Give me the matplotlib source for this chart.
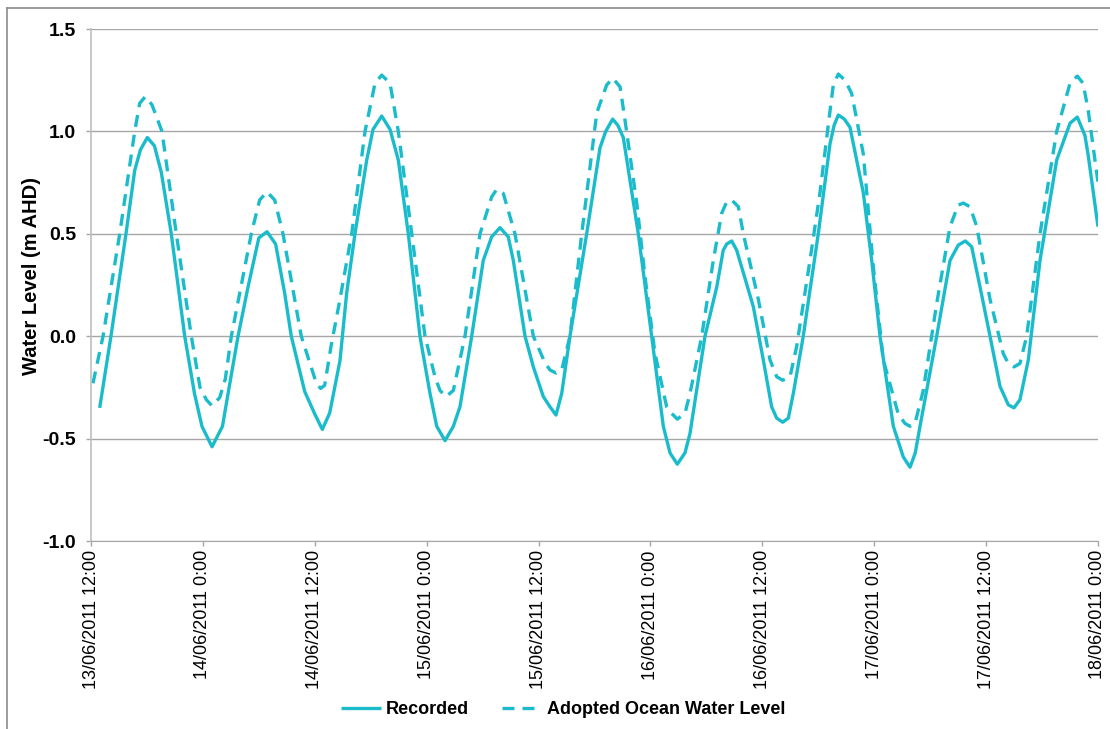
import matplotlib
matplotlib.use("Agg")
import matplotlib.pyplot as plt
import matplotlib.ticker as mticker
from matplotlib.lines import Line2D
import pandas as pd

plt.rcParams['font.family'] = ['Liberation Sans', 'DejaVu Sans']
plt.rcParams['axes.unicode_minus'] = False

start = pd.Timestamp("2011-06-13 12:00")

# hours after 13/06/2011 12:00, water level (m AHD)
rec_hours = [0.93, 2.14, 3.75, 4.69, 5.3, 6.04, 6.8, 7.54, 8.61, 10.05, 11.1, 11.9,
             12.98, 14.1, 14.7, 15.77, 16.84, 18.0, 18.88, 19.8, 20.77, 21.48, 22.92,
             24.0, 24.81, 25.6, 26.70, 27.42, 28.31, 29.57, 30.25, 31.18, 32.07, 32.96,
             34.03, 35.28, 36.36, 37.08, 37.97, 38.86, 39.57, 40.83, 42.07, 42.97, 43.86,
             44.75, 45.29, 46.55, 47.44, 48.51, 49.23, 49.87, 50.48, 51.37, 53.16, 54.59,
             55.2, 55.95, 56.5, 57.09, 58.70, 60.13, 61.38, 62.1, 62.88, 63.7, 64.24,
             65.85, 67.11, 67.81, 68.18, 68.71, 69.25, 69.96, 71.03, 72.10, 73.00, 73.54,
             74.18, 74.79, 75.32, 76.39, 77.11, 78.00, 79.26, 79.7, 80.15, 80.8, 81.40,
             82.83, 83.73, 84.62, 86.05, 87.12, 87.84, 88.4, 88.91, 90.70, 92.13, 93.02,
             93.77, 94.45, 95.35, 96.42, 97.49, 98.38, 98.99, 99.63, 100.53, 101.78,
             103.57, 105.0, 105.78, 106.6, 106.96, 108.0]
rec_level = [-0.35, 0.0, 0.50, 0.81, 0.91, 0.97, 0.93, 0.80, 0.50, 0.0, -0.28, -0.44,
             -0.54, -0.44, -0.28, 0.0, 0.24, 0.48, 0.51, 0.45, 0.21, 0.0, -0.27,
             -0.38, -0.455, -0.375, -0.12, 0.21, 0.50, 0.86, 1.01, 1.075, 1.01, 0.86,
             0.50, 0.0, -0.28, -0.44, -0.51, -0.44, -0.345, 0.0, 0.37, 0.485, 0.53,
             0.485, 0.37, 0.0, -0.15, -0.295, -0.345, -0.385, -0.28, 0.0, 0.50, 0.92,
             1.0, 1.06, 1.03, 0.97, 0.50, 0.0, -0.44, -0.57, -0.625, -0.57, -0.475,
             0.0, 0.24, 0.42, 0.45, 0.465, 0.42, 0.31, 0.145, -0.115, -0.345, -0.40,
             -0.42, -0.40, -0.28, 0.0, 0.225, 0.50, 0.94, 1.03, 1.08, 1.06, 1.02,
             0.70, 0.37, 0.0, -0.44, -0.59, -0.64, -0.57, -0.44, 0.0, 0.37, 0.445,
             0.465, 0.437, 0.24, 0.0, -0.245, -0.335, -0.35, -0.31, -0.115, 0.37,
             0.86, 1.04, 1.07, 0.98, 0.88, 0.535]

ocean_hours = [0.21, 1.29, 3.08, 4.69, 5.22, 5.82, 6.54, 7.61, 9.15, 10.76, 11.69, 12.37,
               12.98, 13.8, 14.4, 15.05, 17.19, 18.09, 18.88, 19.70, 20.59, 22.55, 24.17,
               24.63, 25.06, 25.74, 26.70, 27.96, 29.39, 30.46, 31.18, 32.07, 32.96, 34.40,
               35.82, 36.9, 37.43, 38.07, 38.86, 40.11, 41.72, 42.97, 43.51, 44.22, 45.47,
               47.44, 48.69, 49.23, 49.87, 50.48, 51.37, 52.63, 54.24, 55.3, 55.95, 56.74,
               57.27, 58.53, 59.42, 60.49, 61.74, 62.28, 62.88, 63.7, 64.24, 65.50, 66.74,
               67.64, 68.18, 68.71, 69.43, 69.96, 71.57, 72.82, 73.54, 74.18, 74.97, 75.68,
               77.11, 78.18, 79.26, 79.61, 80.15, 80.87, 81.58, 82.83, 83.90, 84.97, 86.58,
               87.3, 87.84, 88.37, 89.26, 90.70, 92.13, 93.0, 93.56, 94.27, 95.00, 96.42,
               97.84, 98.38, 98.99, 99.63, 100.35, 101.78, 103.57, 105.0, 105.78, 106.4,
               106.96, 108.0]
ocean_level = [-0.23, 0.0, 0.50, 1.0, 1.137, 1.17, 1.13, 1.0, 0.50, 0.0, -0.25, -0.31,
               -0.34, -0.30, -0.21, 0.0, 0.50, 0.665, 0.705, 0.665, 0.50, 0.0, -0.23,
               -0.255, -0.24, -0.05, 0.18, 0.50, 1.0, 1.235, 1.275, 1.235, 1.0, 0.50,
               0.0, -0.2, -0.265, -0.295, -0.265, 0.0, 0.50, 0.68, 0.717, 0.697, 0.50,
               0.0, -0.13, -0.165, -0.18, -0.165, 0.0, 0.50, 1.09, 1.226, 1.26, 1.218,
               1.055, 0.65, 0.29, -0.085, -0.345, -0.377, -0.405, -0.377, -0.28, 0.0, 0.37,
               0.60, 0.656, 0.665, 0.632, 0.50, 0.18, -0.115, -0.198, -0.215, -0.198, -0.05,
               0.37, 0.70, 1.10, 1.226, 1.28, 1.25, 1.185, 0.89, 0.34, -0.115, -0.38,
               -0.426, -0.44, -0.426, -0.265, 0.16, 0.535, 0.64, 0.65, 0.632, 0.535, 0.18,
               -0.085, -0.133, -0.15, -0.133, 0.0, 0.50, 1.0, 1.235, 1.27, 1.235,
               1.10, 0.75]

tick_labels = ["13/06/2011 12:00", "14/06/2011 0:00", "14/06/2011 12:00",
               "15/06/2011 0:00", "15/06/2011 12:00", "16/06/2011 0:00",
               "16/06/2011 12:00", "17/06/2011 0:00", "17/06/2011 12:00",
               "18/06/2011 0:00"]

rec_t = start + pd.to_timedelta(rec_hours, unit="h")
ocean_t = start + pd.to_timedelta(ocean_hours, unit="h")
ticks = [start + pd.Timedelta(hours=12 * i) for i in range(len(tick_labels))]

teal = "#1ABCCB"
grey = "#A6A6A6"

fig = plt.figure(figsize=(11.1, 7.29), dpi=100)
ax = fig.add_axes([91 / 1110, 1 - 541 / 729, (1098 - 91) / 1110, (541 - 29) / 729])

ax.plot(rec_t, rec_level, color=teal, lw=2.4, label="Recorded",
        solid_joinstyle="round", solid_capstyle="butt")
ax.plot(ocean_t, ocean_level, color=teal, lw=2.4, dashes=(3.6, 2.4),
        dash_joinstyle="round", label="Adopted Ocean Water Level")

ax.set_ylim(-1.0, 1.5)
ax.set_xlim(ticks[0], ticks[-1])
ax.yaxis.set_major_locator(mticker.MultipleLocator(0.5))
ax.yaxis.set_major_formatter(mticker.FormatStrFormatter("%.1f"))
ax.set_xticks(ticks)
ax.set_xticklabels(tick_labels, rotation=90, fontsize=13)
for lab in ax.get_yticklabels():
    lab.set_fontweight("bold")
    lab.set_fontsize(14)

ax.grid(axis="y", color=grey, lw=1)
ax.set_axisbelow(True)
for s in ["top", "right"]:
    ax.spines[s].set_visible(False)
ax.spines["left"].set_color("#BFBFBF")
ax.spines["bottom"].set_color(grey)
ax.spines["left"].set_linewidth(1.2)
ax.tick_params(axis="both", colors=grey, length=3.6, width=1, labelcolor="black")
ax.tick_params(axis="y", pad=7)
ax.tick_params(axis="x", pad=3)

ax.set_ylabel("Water Level (m AHD)", fontsize=14.5, fontweight="bold")
ax.yaxis.set_label_coords((41 - 91) / 1007, 0.517)

fig.legend(loc="center", bbox_to_anchor=(563 / 1110, 1 - 710 / 729), ncol=2, frameon=False,
           prop={"weight": "bold", "size": 13}, handlelength=2.2, columnspacing=1.8,
           handletextpad=0.3)

# outer chart border (cropped on right and bottom)
fig.add_artist(Line2D([7 / 1110, 7 / 1110], [0, 1 - 8 / 729], transform=fig.transFigure,
                      color="#8C8C8C", lw=1.2))
fig.add_artist(Line2D([7 / 1110, 1], [1 - 8 / 729, 1 - 8 / 729], transform=fig.transFigure,
                      color="#8C8C8C", lw=1.2))

fig.savefig("out.png", dpi=100)
